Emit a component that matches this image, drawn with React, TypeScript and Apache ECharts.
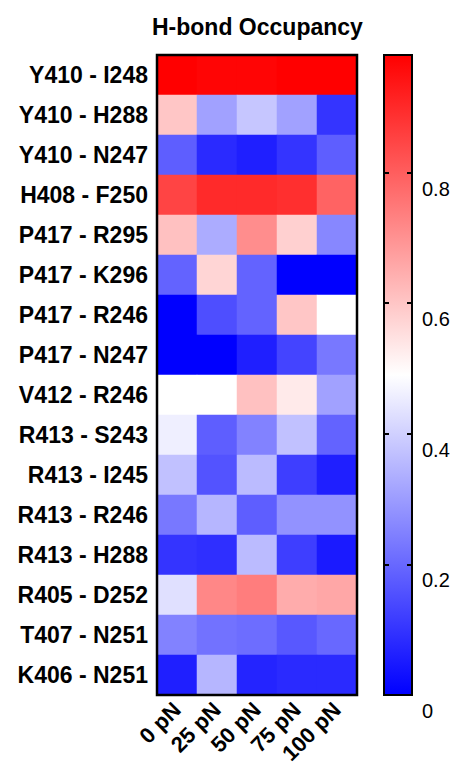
import React, { useEffect, useRef } from "react";
import * as echarts from "echarts";

const columns = ["0 pN", "25 pN", "50 pN", "75 pN", "100 pN"];
const rows = [
  "Y410 - I248",
  "Y410 - H288",
  "Y410 - N247",
  "H408 - F250",
  "P417 - R295",
  "P417 - K296",
  "P417 - R246",
  "P417 - N247",
  "V412 - R246",
  "R413 - S243",
  "R413 - I245",
  "R413 - R246",
  "R413 - H288",
  "R405 - D252",
  "T407 - N251",
  "K406 - N251",
];
// occupancy per row, columns 0..100 pN
const occupancy: number[][] = [
  [0.98, 0.97, 0.97, 0.98, 0.98],
  [0.6, 0.31, 0.38, 0.31, 0.1],
  [0.18, 0.08, 0.06, 0.1, 0.18],
  [0.85, 0.9, 0.9, 0.89, 0.79],
  [0.61, 0.33, 0.71, 0.58, 0.26],
  [0.19, 0.57, 0.19, 0.0, 0.0],
  [0.0, 0.15, 0.19, 0.6, 0.49],
  [0.0, 0.0, 0.06, 0.13, 0.23],
  [0.49, 0.49, 0.61, 0.53, 0.31],
  [0.46, 0.18, 0.25, 0.37, 0.19],
  [0.37, 0.16, 0.36, 0.12, 0.06],
  [0.23, 0.35, 0.18, 0.28, 0.28],
  [0.1, 0.09, 0.36, 0.12, 0.05],
  [0.43, 0.72, 0.74, 0.65, 0.66],
  [0.25, 0.22, 0.21, 0.17, 0.2],
  [0.06, 0.35, 0.07, 0.08, 0.08],
];
const scaleMin = 0;
const scaleMax = 0.98;
const colorTicks = [0, 0.2, 0.4, 0.6, 0.8];

const FONT = "'Liberation Sans', Arial, sans-serif";

export default function App() {
  const ref = useRef<HTMLDivElement>(null);
  useEffect(() => {
    if (!ref.current) return;
    const chart = echarts.init(ref.current, null, { renderer: "svg" });
    const data: [number, number, number][] = [];
    occupancy.forEach((r, ri) => r.forEach((v, ci) => data.push([ci, ri, v])));

    const gTop = 55;
    const gH = 640;
    const gLeft = 157;
    const gW = 200;
    const cbLeft = 384;
    const cbW = 28;
    const tickLen = 5;

    const tickStyle = { show: true, inside: false, length: tickLen, lineStyle: { color: "#000", width: 2 } };

    chart.setOption({
      animation: false,
      backgroundColor: "#ffffff",
      title: {
        text: "H-bond Occupancy",
        left: 147,
        top: 10,
        textStyle: { fontFamily: FONT, fontWeight: "bold", fontSize: 23, color: "#000" },
      },
      grid: [
        { left: gLeft, top: gTop, width: gW, height: gH },
        {
          left: cbLeft,
          top: gTop,
          width: cbW,
          height: gH,
          show: true,
          z: 0,
          borderColor: "#000",
          borderWidth: 2,
          backgroundColor: {
            type: "linear",
            x: 0,
            y: 0,
            x2: 0,
            y2: 1,
            colorStops: [
              { offset: 0, color: "#ff0000" },
              { offset: 0.5, color: "#ffffff" },
              { offset: 1, color: "#0000ff" },
            ],
          },
        },
      ],
      xAxis: [
        {
          type: "category",
          gridIndex: 0,
          data: columns,
          axisLine: { show: false },
          axisTick: { show: false },
          axisLabel: {
            rotate: 45,
            margin: 11,
            fontFamily: FONT,
            fontWeight: "bold",
            fontSize: 22,
            color: "#000",
            interval: 0,
          },
        },
        {
          type: "category",
          gridIndex: 1,
          show: false,
          data: [""],
        },
      ],
      yAxis: [
        {
          type: "category",
          gridIndex: 0,
          data: rows,
          inverse: true,
          axisLine: { show: false },
          axisTick: { show: false },
          axisLabel: {
            margin: 9,
            fontFamily: FONT,
            fontWeight: "bold",
            fontSize: 23,
            color: "#000",
            interval: 0,
          },
        },
        {
          type: "value",
          gridIndex: 1,
          position: "right",
          offset: -tickLen,
          z: 10,
          min: scaleMin,
          max: scaleMax,
          interval: 0.2,
          splitLine: { show: false },
          axisLine: { show: false, onZero: false },
          axisTick: tickStyle,
          axisLabel: {
            margin: 10 + tickLen,
            fontFamily: FONT,
            fontSize: 20,
            color: "#000",
            verticalAlign: "top",
            padding: [6, 0, 0, 0],
            formatter: (v: number) =>
              colorTicks.some((t) => Math.abs(t - v) < 1e-6) ? String(+v.toFixed(1)) : "",
          },
        },
        {
          type: "value",
          gridIndex: 1,
          position: "left",
          offset: -tickLen,
          z: 10,
          min: scaleMin,
          max: scaleMax,
          interval: 0.2,
          splitLine: { show: false },
          axisLine: { show: false, onZero: false },
          axisTick: tickStyle,
          axisLabel: { show: false },
        },
      ],
      visualMap: {
        show: false,
        type: "continuous",
        min: scaleMin,
        max: scaleMax,
        seriesIndex: 0,
        inRange: { color: ["#0000ff", "#ffffff", "#ff0000"] },
      },
      graphic: [
        {
          type: "rect",
          z: 100,
          shape: { x: gLeft, y: gTop, width: gW, height: gH },
          style: { fill: "none", stroke: "#000", lineWidth: 2.5 },
        },
      ],
      series: [
        {
          type: "heatmap",
          xAxisIndex: 0,
          yAxisIndex: 0,
          data,
          itemStyle: { borderWidth: 0 },
          emphasis: { disabled: true },
        },
      ],
    });
    return () => chart.dispose();
  }, []);
  return (
    <div
      ref={ref}
      style={{ position: "fixed", left: 0, top: 0, width: 456, height: 771 }}
    />
  );
}
